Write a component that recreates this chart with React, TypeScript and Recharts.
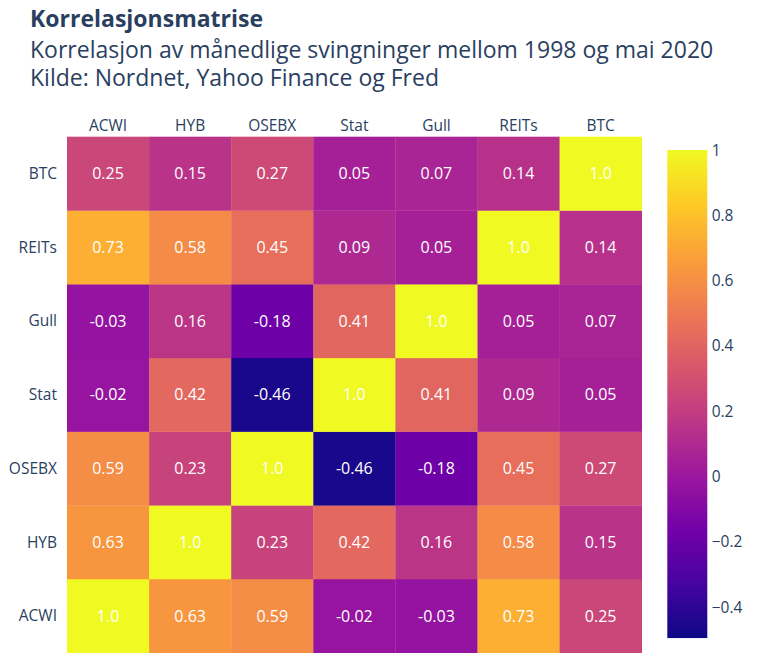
import { ScatterChart, Scatter, XAxis, YAxis, BarChart, Bar } from 'recharts';

const assets = ['ACWI', 'HYB', 'OSEBX', 'Stat', 'Gull', 'REITs', 'BTC'];

// one row per asset, bottom row (ACWI) first, columns in the same order
const rowACWI = [1.0, 0.63, 0.59, -0.02, -0.03, 0.73, 0.25];
const rowHYB = [0.63, 1.0, 0.23, 0.42, 0.16, 0.58, 0.15];
const rowOSEBX = [0.59, 0.23, 1.0, -0.46, -0.18, 0.45, 0.27];
const rowStat = [-0.02, 0.42, -0.46, 1.0, 0.41, 0.09, 0.05];
const rowGull = [-0.03, 0.16, -0.18, 0.41, 1.0, 0.05, 0.07];
const rowREITs = [0.73, 0.58, 0.45, 0.09, 0.05, 1.0, 0.14];
const rowBTC = [0.25, 0.15, 0.27, 0.05, 0.07, 0.14, 1.0];

const colorbarTicks = [-0.4, -0.2, 0, 0.2, 0.4, 0.6, 0.8, 1];

const ZMIN = -0.495;
const ZMAX = 1;

const PLASMA = [
    '#0d0887', '#46039f', '#7201a8', '#9c179e', '#bd3786',
    '#d8576b', '#ed7953', '#fb9f3a', '#fdca26', '#f0f921',
];

const W = 759;
const H = 671;
const PLOT_L = 67;
const PLOT_R = 641.7;
const PLOT_T = 136.7;
const PLOT_B = 652.7;
const CELL_W = (PLOT_R - PLOT_L) / assets.length;
const CELL_H = (PLOT_B - PLOT_T) / assets.length;
const TEXT = '#2a3f5f';
const FONT = '"Open Sans", sans-serif';

const rows = [rowACWI, rowHYB, rowOSEBX, rowStat, rowGull, rowREITs, rowBTC];
const cells = rows.flatMap((row, yi) => row.map((v, xi) => ({ x: xi, y: yi, v })));
const idx = assets.map((_, i) => i);
const colorbarData = [{ name: 'scale', range: [ZMIN, ZMAX] }];

function hexRgb(h: string) {
    return [1, 3, 5].map((i) => parseInt(h.slice(i, i + 2), 16));
}

function plasma(v: number) {
    const t = Math.min(1, Math.max(0, (v - ZMIN) / (ZMAX - ZMIN))) * (PLASMA.length - 1);
    const i = Math.min(PLASMA.length - 2, Math.floor(t));
    const f = t - i;
    const a = hexRgb(PLASMA[i]);
    const b = hexRgb(PLASMA[i + 1]);
    const c = a.map((ch, k) => Math.round(ch + (b[k] - ch) * f));
    return `rgb(${c[0]},${c[1]},${c[2]})`;
}

const fmt = (v: number) => (v === 1 ? '1.0' : v.toFixed(2));

const HeatCell = (props: any) => {
    const { cx, cy, payload } = props;
    return (
        <g>
            <rect
                x={cx - CELL_W / 2}
                y={cy - CELL_H / 2}
                width={CELL_W + 0.3}
                height={CELL_H + 0.3}
                fill={plasma(payload.v)}
            />
            <text
                x={cx}
                y={cy}
                dy="0.36em"
                textAnchor="middle"
                fill="#fff"
                fontSize={16}
                fontFamily={FONT}
            >
                {fmt(payload.v)}
            </text>
        </g>
    );
};

const tickStyle = { fill: TEXT, fontSize: 15.5, fontFamily: FONT };
const subStyle = {
    position: 'absolute' as const,
    left: 30,
    fontSize: 23,
    lineHeight: '27px',
    height: 27,
    whiteSpace: 'nowrap' as const,
};

export default function App() {
    return (
        <div
            style={{
                position: 'absolute',
                left: 0,
                top: 0,
                width: W,
                height: H,
                background: '#fff',
                fontFamily: FONT,
                color: TEXT,
            }}
        >
            <div style={{ position: 'absolute', left: 30, top: 5, fontSize: 23, lineHeight: '26px', fontWeight: 700, whiteSpace: 'nowrap' }}>
                Korrelasjonsmatrise
            </div>
            <div style={{ ...subStyle, top: 36 }}>Korrelasjon av månedlige svingninger mellom 1998 og mai 2020</div>
            <div style={{ ...subStyle, top: 64 }}>Kilde: Nordnet, Yahoo Finance og Fred</div>

            <div style={{ position: 'absolute', left: 0, top: 0 }}>
                <ScatterChart
                    width={W}
                    height={H}
                    margin={{ top: PLOT_T - 30, left: PLOT_L - 60, right: W - PLOT_R, bottom: H - PLOT_B }}
                >
                    <XAxis
                        type="number"
                        dataKey="x"
                        orientation="top"
                        height={30}
                        domain={[-0.5, assets.length - 0.5]}
                        ticks={idx}
                        interval={0}
                        tickFormatter={(i: number) => assets[i]}
                        axisLine={false}
                        tickLine={false}
                        tickSize={0}
                        tickMargin={6}
                        tick={tickStyle}
                    />
                    <YAxis
                        type="number"
                        dataKey="y"
                        width={60}
                        domain={[-0.5, assets.length - 0.5]}
                        ticks={idx}
                        interval={0}
                        tickFormatter={(i: number) => assets[i]}
                        axisLine={false}
                        tickLine={false}
                        tickSize={0}
                        tickMargin={10}
                        tick={tickStyle}
                    />
                    <Scatter data={cells} shape={HeatCell} isAnimationActive={false} />
                </ScatterChart>
            </div>

            <div style={{ position: 'absolute', left: 0, top: 0 }}>
                <BarChart
                    width={W}
                    height={H}
                    data={colorbarData}
                    barCategoryGap={0}
                    margin={{ top: 150, left: 667.3, right: W - 707.7 - 40, bottom: H - 638.3 }}
                >
                    <defs>
                        <linearGradient id="plasmaBar" x1="0" y1="1" x2="0" y2="0">
                            {PLASMA.map((c, i) => (
                                <stop key={c} offset={`${(i / (PLASMA.length - 1)) * 100}%`} stopColor={c} />
                            ))}
                        </linearGradient>
                    </defs>
                    <XAxis type="category" dataKey="name" hide />
                    <YAxis
                        type="number"
                        orientation="right"
                        width={40}
                        domain={[ZMIN, ZMAX]}
                        allowDataOverflow
                        ticks={colorbarTicks}
                        interval={0}
                        tickFormatter={(v: number) => String(v).replace('-', '\u2212')}
                        axisLine={false}
                        tickLine={false}
                        tickSize={0}
                        tickMargin={4}
                        tick={tickStyle}
                    />
                    <Bar dataKey="range" fill="url(#plasmaBar)" isAnimationActive={false} />
                </BarChart>
            </div>
        </div>
    );
}
